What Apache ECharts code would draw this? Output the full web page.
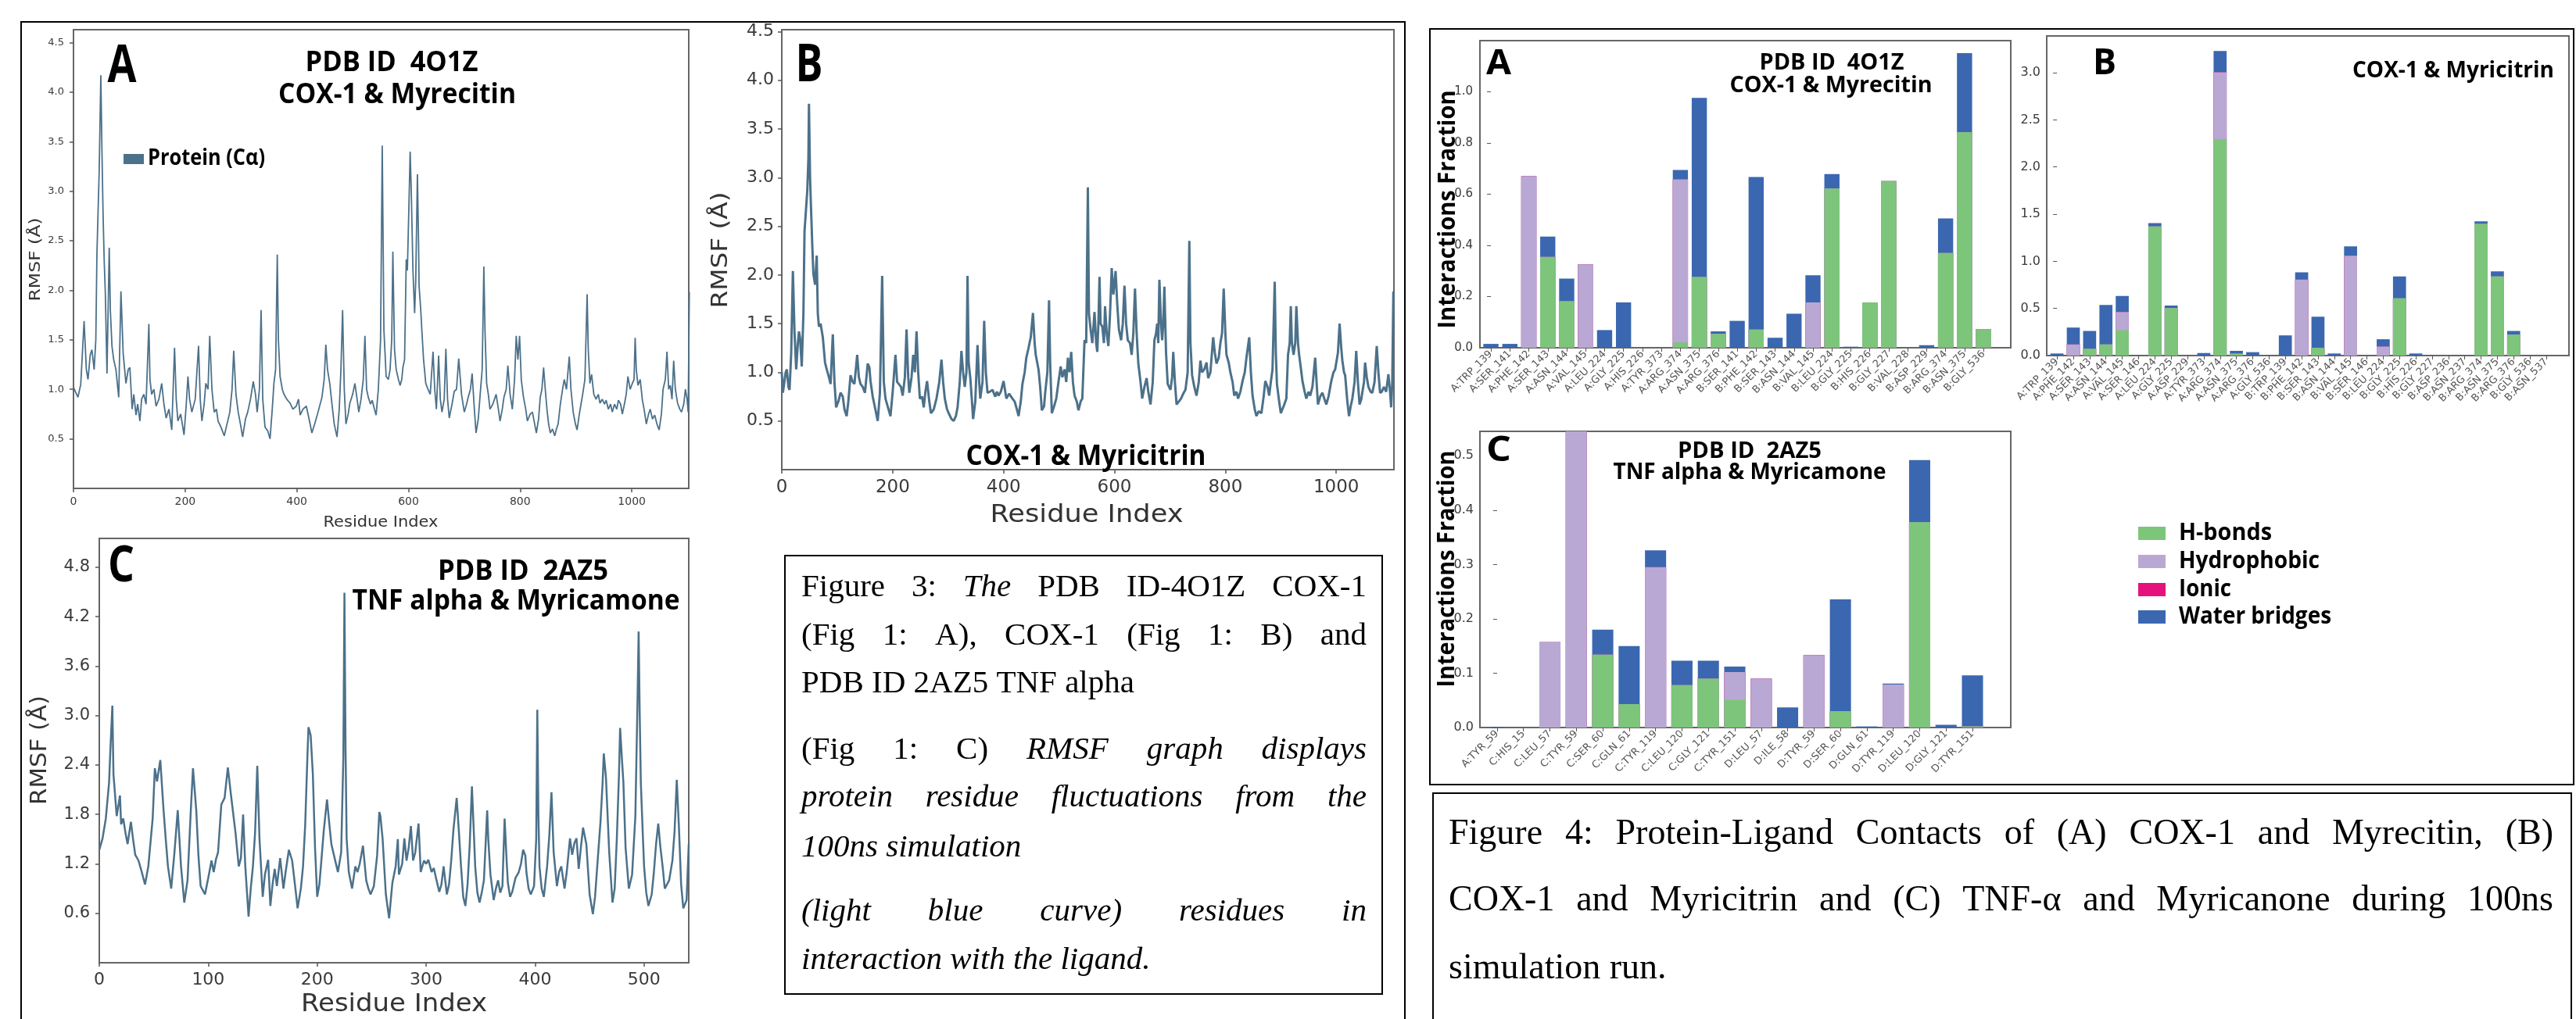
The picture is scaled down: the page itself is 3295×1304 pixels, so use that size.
<!DOCTYPE html>
<html><head><meta charset="utf-8">
<script src="https://cdn.jsdelivr.net/npm/echarts@6/dist/echarts.min.js"></script>
<style>html,body{margin:0;padding:0;background:#fff;}#c{width:3295px;height:1304px;}</style>
</head><body><div id="c"></div>
<script>
// ---------------- RMSF data (residue index, RMSF in Å) ----------------
const rmsfA_res = [0,4,8,13,19,23,26,30,33,37,40,42,46,49,51,53,55,57,60,64,66,69,72,76,81,85,89,94,98,101,105,108,112,115,119,122,126,130,135,137,140,144,148,153,158,162,166,171,176,181,184,187,192,198,202,205,208,212,218,224,227,230,234,237,241,244,248,252,256,259,264,270,275,280,284,287,291,295,299,303,308,312,317,322,326,329,333,336,339,343,348,352,356,359,362,365,367,370,374,377,382,388,393,399,403,406,411,417,422,427,432,438,445,449,452,455,459,463,467,472,476,479,482,485,488,492,495,500,504,508,511,515,519,522,525,528,532,535,539,542,546,550,553,556,560,564,567,570,572,575,578,582,585,588,590,593,596,598,601,603,605,608,611,613,616,618,619,622,624,627,631,635,639,644,647,650,654,657,660,664,667,670,673,678,682,686,690,695,700,704,707,711,714,718,721,725,728,732,735,737,740,743,746,751,757,761,764,768,771,775,778,782,786,790,793,796,799,802,806,810,813,818,822,826,829,833,836,839,842,845,848,851,854,858,862,865,868,872,876,879,883,886,888,891,895,899,902,906,909,912,916,920,922,925,928,932,936,940,943,947,951,954,958,962,965,969,973,976,980,983,986,990,993,997,1001,1004,1006,1008,1011,1015,1019,1022,1026,1030,1033,1037,1041,1045,1049,1053,1056,1060,1063,1066,1069,1072,1075,1078,1082,1086,1089,1093,1096,1099,1101,1103];
const rmsfA_val = [1.02,0.97,0.92,1.05,1.69,1.2,1.1,1.35,1.4,1.2,1.5,2.37,3.2,4.17,3.4,2.76,2.3,1.98,1.16,2.43,1.8,1.43,1.3,1.2,0.92,1.99,1.36,1.06,1.2,1.22,0.8,0.95,0.74,0.85,0.68,0.9,0.95,0.85,1.66,1.1,0.95,1.0,0.83,0.9,1.06,0.85,0.71,0.8,0.59,1.42,0.9,0.68,0.75,0.54,0.85,1.13,0.9,0.77,0.9,1.44,0.9,0.68,0.85,1.06,1.0,1.54,1.0,0.77,0.8,0.68,0.62,0.53,0.65,0.77,1.0,1.39,0.95,0.77,0.65,0.52,0.7,0.77,0.9,1.08,0.95,0.77,1.0,1.8,0.9,0.62,0.58,0.5,0.8,1.06,1.2,2.36,1.5,1.13,1.0,0.95,0.9,0.86,0.8,0.83,0.9,0.74,0.8,0.83,0.7,0.56,0.65,0.77,0.92,1.1,1.45,1.2,1.06,0.85,0.65,0.52,0.8,1.2,1.8,1.0,0.65,0.75,0.86,0.95,1.06,0.9,0.77,0.9,1.1,1.54,1.0,0.92,0.85,0.89,0.8,0.74,1.0,1.5,3.46,1.6,1.13,1.1,1.2,1.5,2.39,1.4,1.2,1.1,1.04,1.1,1.22,1.3,2.31,2.2,2.9,3.4,3.0,2.2,1.77,2.1,3.17,2.5,2.04,1.8,1.59,1.3,1.06,1.0,0.95,1.38,1.0,0.8,1.34,0.9,0.77,0.9,1.41,0.9,0.71,0.85,0.98,1.0,1.31,0.95,0.77,0.85,0.92,1.0,1.16,0.8,0.56,0.7,0.92,1.2,2.24,1.6,1.06,0.95,0.8,0.85,0.95,0.8,0.68,0.8,0.92,1.0,1.24,0.95,0.8,1.1,1.54,1.3,1.54,1.1,0.92,0.8,0.68,0.75,0.77,0.65,0.56,0.7,0.92,1.0,1.22,1.0,0.8,0.65,0.56,0.6,0.53,0.6,0.65,0.85,1.0,1.1,1.0,1.2,1.33,1.0,0.77,0.65,0.59,0.75,0.85,0.95,1.1,1.96,1.4,1.06,1.15,0.95,0.9,0.95,0.86,0.9,0.85,0.89,0.8,0.85,0.77,0.85,0.8,0.89,0.85,0.75,0.83,0.95,1.13,1.0,1.06,1.1,1.52,1.2,1.04,1.1,0.89,0.8,0.65,0.75,0.8,0.7,0.74,0.65,0.59,0.75,1.0,1.1,1.38,1.0,1.04,0.9,1.29,1.0,0.86,0.8,0.77,0.85,1.0,0.9,0.77,1.98];

const rmsfB_res = [0,2,4,7,9,12,14,17,20,23,26,29,31,33,36,39,41,44,46,48,49,51,52,55,57,60,63,65,67,70,74,78,81,85,88,92,95,98,102,106,110,113,117,120,124,128,131,136,139,142,146,150,155,158,160,164,168,173,177,181,184,187,191,196,200,205,208,211,215,218,222,225,228,230,234,237,240,243,246,249,253,256,259,262,266,269,274,279,284,288,291,294,298,301,306,310,314,317,321,324,327,330,333,335,337,340,343,345,349,353,356,358,362,365,368,371,375,380,385,388,391,395,400,405,410,416,420,424,427,431,434,438,441,445,449,453,456,458,463,466,469,473,475,479,482,484,487,491,495,499,503,506,510,513,516,519,522,525,528,532,535,539,542,546,549,552,554,557,560,564,567,569,571,573,575,578,581,583,586,589,592,595,598,602,605,608,612,615,618,621,624,628,631,634,637,640,643,647,650,654,658,661,665,669,672,675,677,679,681,684,686,688,690,693,696,701,704,706,709,712,716,720,724,728,732,735,737,740,744,748,752,755,758,762,766,769,773,778,781,784,788,791,794,797,800,802,806,809,813,816,820,823,827,831,835,838,843,846,849,853,856,860,865,869,872,876,879,882,885,889,891,893,897,900,905,910,913,916,918,920,923,926,928,931,933,936,939,943,946,950,953,957,962,965,967,971,975,979,982,986,991,995,998,1003,1006,1009,1011,1014,1016,1020,1023,1026,1029,1033,1036,1039,1042,1045,1047,1050,1052,1055,1058,1062,1065,1069,1073,1076,1079,1082,1086,1090,1094,1097,1099,1101,1103];
const rmsfB_val = [1.0,0.79,0.79,1.0,1.03,0.85,0.82,1.2,2.04,1.4,1.03,1.3,1.42,1.35,1.06,1.6,2.45,2.7,2.87,3.2,3.76,3.0,2.81,2.3,2.01,1.9,2.2,1.6,1.47,1.5,1.36,1.1,1.03,0.95,0.88,1.39,0.9,0.64,0.7,0.79,0.75,0.62,0.55,0.7,0.97,0.9,0.88,1.18,0.95,0.88,0.85,0.79,1.09,1.05,0.91,0.75,0.64,0.5,0.79,1.99,0.9,0.73,0.65,0.55,0.8,1.18,0.9,0.88,0.85,0.76,0.95,1.44,0.95,0.79,0.95,1.18,1.0,1.42,1.0,0.73,0.75,0.64,0.8,0.91,0.7,0.58,0.62,0.73,0.9,1.13,0.9,0.73,0.62,0.58,0.52,0.5,0.55,0.64,0.9,1.22,1.0,0.85,1.0,1.99,1.1,0.94,0.7,0.52,0.7,1.28,0.9,0.73,0.9,1.53,1.0,0.79,0.8,0.82,0.75,0.8,0.76,0.8,0.91,0.73,0.78,0.73,0.7,0.62,0.55,0.7,0.88,1.0,1.15,1.25,1.36,1.61,1.3,1.18,1.03,0.85,0.61,0.65,0.79,1.0,1.74,1.1,0.58,0.65,0.73,0.9,1.06,0.95,1.03,0.9,1.15,1.0,1.21,0.9,0.76,0.7,0.61,0.7,0.73,1.33,1.3,2.9,1.6,1.44,1.3,1.62,1.3,1.21,1.5,1.98,1.5,1.47,1.3,1.68,1.4,1.27,1.6,2.07,1.8,2.04,1.7,1.44,1.33,1.5,1.89,1.5,1.33,1.3,1.18,1.4,1.86,1.4,1.09,0.9,0.73,0.85,0.94,0.8,0.67,0.9,1.33,1.4,1.5,1.3,1.95,1.5,1.33,1.5,1.88,1.2,0.88,0.82,0.95,1.21,0.9,0.67,0.7,0.73,0.78,0.82,1.0,2.35,1.3,0.97,0.85,0.76,0.9,1.12,1.0,1.03,1.1,0.94,1.0,1.36,1.2,1.09,1.15,1.3,1.4,1.86,1.4,1.18,1.1,1.0,0.9,0.76,0.8,0.73,0.8,0.91,1.0,1.15,1.36,1.0,0.76,0.62,0.55,0.6,0.58,0.75,0.91,0.85,0.76,0.9,1.03,1.93,1.2,0.88,0.7,0.58,0.65,0.73,1.18,1.3,1.68,1.3,1.18,1.3,1.68,1.3,1.18,1.05,0.91,0.8,0.73,0.8,0.76,0.85,1.15,0.85,0.67,0.75,0.79,0.72,0.67,0.75,0.91,1.0,1.03,1.2,1.5,1.25,1.12,1.0,0.97,0.7,0.55,0.65,0.73,0.9,1.22,0.9,0.67,0.72,0.73,0.9,1.1,0.95,0.85,0.8,0.79,0.9,1.27,1.0,0.79,0.8,0.85,0.8,0.98,0.8,0.64,0.9,1.83];

const rmsfC_res = [0,3,6,9,10,12,13,16,19,20,22,24,26,29,31,33,36,39,42,45,49,51,53,54,56,59,61,63,66,69,72,75,78,81,84,86,89,91,93,97,100,103,105,107,109,112,115,118,121,125,128,130,132,134,137,139,141,143,145,147,150,152,155,157,159,161,163,166,169,171,174,177,180,182,185,187,189,191,192,194,196,198,200,202,204,206,209,211,213,216,219,222,224,225,226,227,229,232,235,237,239,242,245,247,249,252,255,257,258,260,263,266,269,272,274,275,278,280,282,284,286,288,290,293,295,298,300,302,305,307,309,312,314,316,319,321,323,325,328,330,332,334,336,338,340,342,344,345,347,349,351,353,356,357,359,362,364,366,368,370,372,374,375,377,379,382,385,387,389,391,392,394,396,399,401,402,403,404,406,408,411,413,415,417,420,422,424,427,429,432,434,436,438,440,442,444,447,450,453,455,457,460,462,463,465,468,471,473,475,477,478,480,481,483,486,489,492,494,495,496,497,499,500,502,504,507,509,511,513,515,517,519,521,523,526,528,530,532,534,536,539,541];
const rmsfC_val = [1.37,1.51,1.75,2.19,2.53,3.12,2.29,1.78,2.03,1.68,1.75,1.58,1.44,1.71,1.5,1.31,1.24,1.1,0.95,1.17,1.75,2.36,2.2,2.19,2.46,1.85,1.5,1.17,0.9,1.34,1.85,1.17,0.73,1.0,1.85,2.36,1.85,1.3,0.93,0.83,1.03,1.24,1.1,1.25,1.34,1.92,2.0,2.37,2.02,1.58,1.17,1.27,1.8,1.17,0.56,0.9,1.17,1.58,2.39,1.51,0.8,1.07,1.25,0.69,0.95,1.14,0.93,1.27,0.9,1.1,1.37,1.24,0.9,0.66,0.9,1.17,1.68,2.5,2.86,2.76,2.29,1.4,0.8,0.95,1.27,1.6,1.98,1.7,1.44,1.27,1.1,1.34,2.5,4.49,2.6,1.51,1.1,0.9,1.17,1.1,1.2,1.42,1.0,0.9,0.83,0.93,1.3,1.83,1.78,1.51,0.83,0.54,0.97,1.17,1.5,1.07,1.2,1.51,1.24,1.4,1.66,1.24,1.34,1.69,1.1,1.24,1.2,1.25,1.1,1.15,1.03,0.86,0.95,1.17,0.83,0.95,1.24,1.61,2.0,1.6,1.17,0.8,0.69,0.95,1.44,2.14,1.5,1.17,0.85,0.73,0.85,1.0,1.85,1.5,1.07,0.76,0.9,1.0,0.85,0.93,1.75,1.2,0.97,0.8,0.86,1.03,1.1,1.2,1.37,1.3,1.1,0.9,0.83,0.93,1.5,3.07,1.8,1.17,0.9,0.8,1.17,1.54,2.07,1.34,0.93,1.1,1.17,0.9,1.1,1.51,1.31,1.45,1.51,1.14,1.4,1.64,1.44,0.83,0.59,0.8,1.17,1.71,2.2,2.54,2.25,1.34,0.73,0.9,1.51,2.3,2.85,2.4,2.19,1.4,0.9,1.07,1.78,3.2,4.02,3.0,2.19,1.5,1.17,0.85,0.69,0.83,1.1,1.44,1.69,1.4,1.17,0.9,0.95,1.0,1.24,1.6,2.22,1.64,0.95,0.66,0.76,1.44];

// ---------------- Protein-ligand contact fractions ----------------
const contactTypes = ['H-bonds','Hydrophobic','Ionic','Water bridges'];

const catsA = ['A:TRP_139','A:SER_141','A:PHE_142','A:SER_143','A:ASN_144','A:VAL_145','A:LEU_224','A:GLY_225','A:HIS_226','A:TYR_373','A:ARG_374','A:ASN_375','A:ARG_376','B:SER_141','B:PHE_142','B:SER_143','B:ASN_144','B:VAL_145','B:LEU_224','B:GLY_225','B:HIS_226','B:GLY_227','B:VAL_228','B:ASP_229','B:ARG_374','B:ASN_375','B:GLY_536'];
const hbondA = [0,0,0,0.355,0.182,0,0,0,0,0,0.021,0.276,0.054,0,0.071,0,0,0,0.622,0,0.177,0.651,0,0,0.37,0.842,0.072];
const hydroA = [0,0,0.67,0,0,0.326,0,0,0,0,0.637,0,0,0,0,0,0,0.177,0,0,0,0,0,0,0,0,0];
const ionicA = [0,0,0,0,0,0,0,0,0,0,0,0,0,0,0,0,0,0,0,0,0,0,0,0,0,0,0];
const waterA = [0.015,0.015,0,0.079,0.088,0,0.069,0.177,0,0,0.037,0.70,0.01,0.105,0.596,0.039,0.133,0.106,0.057,0.004,0,0,0,0.01,0.135,0.309,0];

const catsB = ['A:TRP_139','A:PHE_142','A:SER_143','A:ASN_144','A:VAL_145','A:SER_146','A:LEU_224','A:GLY_225','A:ASP_229','A:TYR_373','A:ARG_374','A:ASN_375','A:ARG_376','A:GLY_536','B:TRP_139','B:PHE_142','B:SER_143','B:ASN_144','B:VAL_145','B:SER_146','B:LEU_224','B:GLY_225','B:HIS_226','B:GLY_227','B:ASP_236','B:ASN_237','B:ARG_374','B:ASN_375','B:ARG_376','B:GLY_536','B:ASN_537'];
const hbondB = [0,0,0.071,0.118,0.269,0,1.369,0.503,0,0,2.296,0.02,0,0,0,0,0.082,0,0,0,0,0.608,0,0,0,0,1.397,0.839,0.223,0,0];
const hydroB = [0,0.118,0,0,0.193,0,0,0,0,0,0.709,0,0,0,0,0.806,0,0,1.059,0,0.096,0,0,0,0,0,0,0,0,0,0];
const ionicB = [0,0,0,0,0,0,0,0,0,0,0,0,0,0,0,0,0,0,0,0,0,0,0,0,0,0,0,0,0,0,0];
const waterB = [0.022,0.179,0.19,0.418,0.17,0,0.036,0.028,0,0.027,0.226,0.03,0.036,0,0.214,0.077,0.33,0.022,0.099,0,0.077,0.231,0.022,0,0.003,0,0.027,0.055,0.038,0,0];

const catsC = ['A:TYR_59','C:HIS_15','C:LEU_57','C:TYR_59','C:SER_60','C:GLN_61','C:TYR_119','C:LEU_120','C:GLY_121','C:TYR_151','D:LEU_57','D:ILE_58','D:TYR_59','D:SER_60','D:GLN_61','D:TYR_119','D:LEU_120','D:GLY_121','D:TYR_151'];
const hbondC = [0,0,0,0,0.134,0.043,0,0.078,0.09,0.051,0,0,0,0.03,0,0,0.378,0,0.002];
const hydroC = [0,0,0.157,0.62,0,0,0.295,0,0,0.051,0.09,0,0.133,0,0,0.079,0,0,0];
const ionicC = [0,0,0,0,0,0,0,0,0,0,0,0,0,0,0,0,0,0,0];
const waterC = [0.001,0,0,0,0.046,0.107,0.031,0.045,0.033,0.01,0,0.037,0,0.206,0.002,0.002,0.114,0.005,0.094];

// ---------------- helpers ----------------
const mctx = document.createElement('canvas').getContext('2d');
function measure(text, style, weight, size, family) {
  mctx.font = `${style} ${weight} ${size}px ${family}`;
  return mctx.measureText(text).width;
}
const SANS = '"Open Sans", "DejaVu Sans", sans-serif';
const DEJ = '"DejaVu Sans", sans-serif';
const SERIF = '"Liberation Serif", "Times New Roman", serif';
function T(text, x, y, o) {
  const size = o.size, weight = o.weight || 'normal', family = o.family || SANS, fst = o.style || 'normal';
  let sx = 1;
  if (o.w) sx = o.w / measure(text, fst, weight, size, family);
  return { type: 'text', x: x, y: y, rotation: o.rot || 0, scaleX: sx, z: 20, silent: true,
    style: { text: text, fontSize: size, fontWeight: weight, fontFamily: family, fontStyle: fst,
      fill: o.color || '#000', align: o.align || 'center', verticalAlign: 'middle' } };
}
function box(x, y, w, h, lw) {
  return { type: 'rect', z: 5, silent: true, shape: { x: x, y: y, width: w, height: h },
    style: { fill: 'none', stroke: '#000', lineWidth: lw || 2 } };
}
// justified paragraph line: segs = [[text, italic], ...]
function jline(segs, x0, x1, y, size, justify) {
  const words = [];
  segs.forEach(s => s[0].split(' ').filter(t => t.length).forEach(t => words.push({ t: t, i: s[1] })));
  const widths = words.map(w => measure(w.t, w.i ? 'italic' : 'normal', 'normal', size, SERIF));
  const total = widths.reduce((a, b) => a + b, 0);
  const gap = justify ? (x1 - x0 - total) / (words.length - 1) : measure(' ', 'normal', 'normal', size, SERIF);
  const els = []; let x = x0;
  words.forEach((w, k) => {
    els.push({ type: 'text', x: x, y: y, z: 20, silent: true,
      style: { text: w.t, fontSize: size, fontFamily: SERIF, fontStyle: w.i ? 'italic' : 'normal',
        fill: '#000', align: 'left', verticalAlign: 'middle' } });
    x += widths[k] + gap;
  });
  return els;
}
const zip = (a, b) => a.map((v, i) => [v, b[i]]);

// ---------------- layout ----------------
const G = [
  { left: 94, top: 38, width: 787, height: 587 },    // RMSF A
  { left: 1000, top: 38, width: 783, height: 563 },  // RMSF B
  { left: 127, top: 689, width: 754, height: 543 },  // RMSF C
  { left: 1893, top: 52, width: 679, height: 393 },  // contacts A
  { left: 2618, top: 46, width: 668, height: 409 },  // contacts B
  { left: 1893, top: 552, width: 679, height: 379 }  // contacts C
];
const LINE = '#4c718a';
const COLORS = ['#7dc57b', '#b9a8d3', '#e5127d', '#3a67b0'];

function rmsfX(gi, max, interval, fs, margin) {
  return { type: 'value', gridIndex: gi, min: 0, max: max, interval: interval,
    axisLine: { show: false }, splitLine: { show: false },
    axisTick: { show: true, length: 5, lineStyle: { color: '#555', width: 1.5 } },
    axisLabel: { fontSize: fs, color: '#3a3a3a', fontFamily: DEJ, margin: margin, showMaxLabel: false,
      formatter: v => String(v) } };
}
function rmsfY(gi, max, interval, fs, margin) {
  return { type: 'value', gridIndex: gi, min: 0, max: max, interval: interval,
    axisLine: { show: false }, splitLine: { show: false },
    axisTick: { show: true, length: 5, lineStyle: { color: '#555', width: 1.5 } },
    axisLabel: { fontSize: fs, color: '#3a3a3a', fontFamily: DEJ, margin: margin,
      showMinLabel: false, showMaxLabel: false, formatter: v => v.toFixed(1) } };
}
function barX(gi, cats, min, max) {
  const idx = cats.map((c, i) => i);
  return { type: 'value', gridIndex: gi, min: min, max: max,
    axisLine: { show: false }, splitLine: { show: false },
    axisTick: { show: true, length: 5, customValues: idx, lineStyle: { color: '#555' } },
    axisLabel: { customValues: idx, rotate: 45, fontSize: 13, color: '#555', fontFamily: DEJ, margin: 6,
      formatter: v => cats[Math.round(v)] } };
}
function barY(gi, max, interval, fs, margin, family) {
  return { type: 'value', gridIndex: gi, min: 0, max: max, interval: interval,
    axisLine: { show: false }, splitLine: { show: false },
    axisTick: { show: true, length: 5, lineStyle: { color: '#555' } },
    axisLabel: { fontSize: fs, color: '#3a3a3a', fontFamily: family, margin: margin,
      showMaxLabel: interval * Math.round(max / interval) === max, formatter: v => v.toFixed(1) } };
}
// stacked columns drawn as overlapping cumulative bars (tallest first)
function barSeries(gi, groups, bw) {
  const cum = [];
  groups.forEach((vals, k) => cum.push(vals.map((v, i) => v + (k ? cum[k - 1][i] : 0))));
  const out = [];
  for (let k = groups.length - 1; k >= 0; k--) {
    out.push({ type: 'bar', name: contactTypes[k], xAxisIndex: gi, yAxisIndex: gi,
      barWidth: bw, barGap: '-100%', clip: true, silent: true, itemStyle: { color: COLORS[k] },
      data: cum[k].map((v, i) => [i, v]) });
  }
  return out;
}
const bwA = 0.8 * G[3].width / (27.44 + 0.58);
const bwB = 0.8 * G[4].width / (31.39 + 0.63);
const bwC = 0.8 * G[5].width / (19.45 + 0.65);

// ---------------- graphics: boxes, titles, captions ----------------
const g = [];
g.push(box(27, 28, 1770, 1300));
g.push(box(1829, 37, 1463, 967));
g.push(box(1004, 711, 764, 561));
g.push(box(1833, 1015, 1456, 300));

// RMSF A
g.push(T('A', 156, 86, { size: 66, weight: 'bold', w: 37 }));
g.push(T('PDB ID  4O1Z', 501, 81, { size: 36, weight: 'bold', w: 221 }));
g.push(T('COX-1 & Myrecitin', 508, 122, { size: 36, weight: 'bold', w: 304 }));
g.push({ type: 'rect', z: 20, silent: true, shape: { x: 158, y: 197, width: 26, height: 13 }, style: { fill: LINE } });
g.push(T('Protein (Cα)', 189, 203, { size: 29, weight: 'bold', w: 150, align: 'left' }));
g.push(T('RMSF (Å)', 46, 332, { size: 20, family: DEJ, color: '#333', rot: Math.PI / 2, w: 107 }));
g.push(T('Residue Index', 487, 669, { size: 20, family: DEJ, color: '#333', w: 147 }));
// RMSF B
g.push(T('B', 1035, 85, { size: 66, weight: 'bold', w: 35 }));
g.push(T('COX-1 & Myricitrin', 1389, 585, { size: 36, weight: 'bold', w: 307 }));
g.push(T('RMSF (Å)', 923, 320, { size: 28, family: DEJ, color: '#333', rot: Math.PI / 2, w: 149 }));
g.push(T('Residue Index', 1390, 660, { size: 32, family: DEJ, color: '#333', w: 247 }));
// RMSF C
g.push(T('C', 155, 726, { size: 64, weight: 'bold', w: 34 }));
g.push(T('PDB ID  2AZ5', 669, 732, { size: 36, weight: 'bold', w: 218 }));
g.push(T('TNF alpha & Myricamone', 660, 770, { size: 36, weight: 'bold', w: 419 }));
g.push(T('RMSF (Å)', 52, 960, { size: 28, family: DEJ, color: '#333', rot: Math.PI / 2, w: 140 }));
g.push(T('Residue Index', 504, 1286, { size: 32, family: DEJ, color: '#333', w: 238 }));

// Contacts A
g.push(T('A', 1917, 82, { size: 45, weight: 'bold', w: 32 }));
g.push(T('PDB ID  4O1Z', 2343, 81, { size: 29, weight: 'bold', w: 185 }));
g.push(T('COX-1 & Myrecitin', 2342, 110, { size: 29, weight: 'bold', w: 259 }));
g.push(T('Interactions Fraction', 1852, 268, { size: 30, weight: 'bold', rot: Math.PI / 2, w: 305 }));
// Contacts B
g.push(T('B', 2692, 82, { size: 46, weight: 'bold', w: 30 }));
g.push(T('COX-1 & Myricitrin', 3267, 91, { size: 29, weight: 'bold', w: 258, align: 'right' }));
// Contacts C
g.push(T('C', 1917, 577, { size: 44, weight: 'bold', w: 32 }));
g.push(T('PDB ID  2AZ5', 2238, 578, { size: 29, weight: 'bold', w: 184 }));
g.push(T('TNF alpha & Myricamone', 2238, 605, { size: 29, weight: 'bold', w: 349 }));
g.push(T('Interactions Fraction', 1851, 728, { size: 30, weight: 'bold', rot: Math.PI / 2, w: 303 }));

// Legend (contacts)
const legY = [682, 718, 754, 789];
const legW = [119, 180, 67, 195];
contactTypes.forEach((name, k) => {
  g.push({ type: 'rect', z: 20, silent: true, shape: { x: 2735, y: legY[k] - 8, width: 35, height: 17 }, style: { fill: COLORS[k] } });
  g.push(T(name, 2787, legY[k], { size: 30, weight: 'bold', w: legW[k], align: 'left' }));
});

// Caption figure 3
const c3 = [
  [[['Figure 3:', 0], ['The', 1], ['PDB ID-4O1Z COX-1', 0]], 752, true],
  [[['(Fig 1: A), COX-1 (Fig 1: B) and', 0]], 814, true],
  [[['PDB ID 2AZ5 TNF alpha', 0]], 875, false],
  [[['(Fig 1: C)', 0], ['RMSF graph displays', 1]], 960, true],
  [[['protein residue fluctuations from the', 1]], 1021, true],
  [[['100ns simulation', 1]], 1085, false],
  [[['(light blue curve) residues in', 1]], 1167, true],
  [[['interaction with the ligand.', 1]], 1229, false]
];
c3.forEach(l => jline(l[0], 1025, 1748, l[1], 41, l[2]).forEach(e => g.push(e)));
// Caption figure 4
const c4 = [
  [[['Figure 4: Protein-Ligand Contacts of (A) COX-1 and Myrecitin, (B)', 0]], 1068, true],
  [[['COX-1 and Myricitrin and (C) TNF-α and Myricanone during 100ns', 0]], 1153, true],
  [[['simulation run.', 0]], 1240, false]
];
c4.forEach(l => jline(l[0], 1853, 3266, l[1], 46, l[2]).forEach(e => g.push(e)));

// ---------------- option ----------------
const option = {
  animation: false,
  backgroundColor: '#fff',
  grid: G.map(d => Object.assign({ show: true, borderColor: '#666', borderWidth: 2, backgroundColor: 'rgba(0,0,0,0)', containLabel: false }, d)),
  xAxis: [
    rmsfX(0, 1102, 200, 14, 10),
    rmsfX(1, 1104, 200, 23, 12),
    rmsfX(2, 541, 100, 22, 11),
    barX(3, catsA, -0.58, 27.44),
    barX(4, catsB, -0.63, 31.39),
    barX(5, catsC, -0.65, 19.45)
  ],
  yAxis: [
    rmsfY(0, 4.63, 0.5, 13, 12),
    rmsfY(1, 4.52, 0.5, 22, 10),
    rmsfY(2, 5.15, 0.6, 21, 12),
    barY(3, 1.2, 0.2, 15, 9, DEJ),
    barY(4, 3.39, 0.5, 16, 8, DEJ),
    barY(5, 0.545, 0.1, 16, 8, DEJ)
  ],
  series: [
    { type: 'line', xAxisIndex: 0, yAxisIndex: 0, data: zip(rmsfA_res, rmsfA_val), showSymbol: false, silent: true, lineStyle: { color: LINE, width: 1.8 } },
    { type: 'line', xAxisIndex: 1, yAxisIndex: 1, data: zip(rmsfB_res, rmsfB_val), showSymbol: false, silent: true, lineStyle: { color: LINE, width: 3 } },
    { type: 'line', xAxisIndex: 2, yAxisIndex: 2, data: zip(rmsfC_res, rmsfC_val), showSymbol: false, silent: true, lineStyle: { color: LINE, width: 2.5 } }
  ].concat(
    barSeries(3, [hbondA, hydroA, ionicA, waterA], bwA),
    barSeries(4, [hbondB, hydroB, ionicB, waterB], bwB),
    barSeries(5, [hbondC, hydroC, ionicC, waterC], bwC)
  ),
  graphic: { elements: g }
};
const chart = echarts.init(document.getElementById('c'), null, { renderer: 'canvas', width: 3295, height: 1304 });
chart.setOption(option);
</script></body></html>
